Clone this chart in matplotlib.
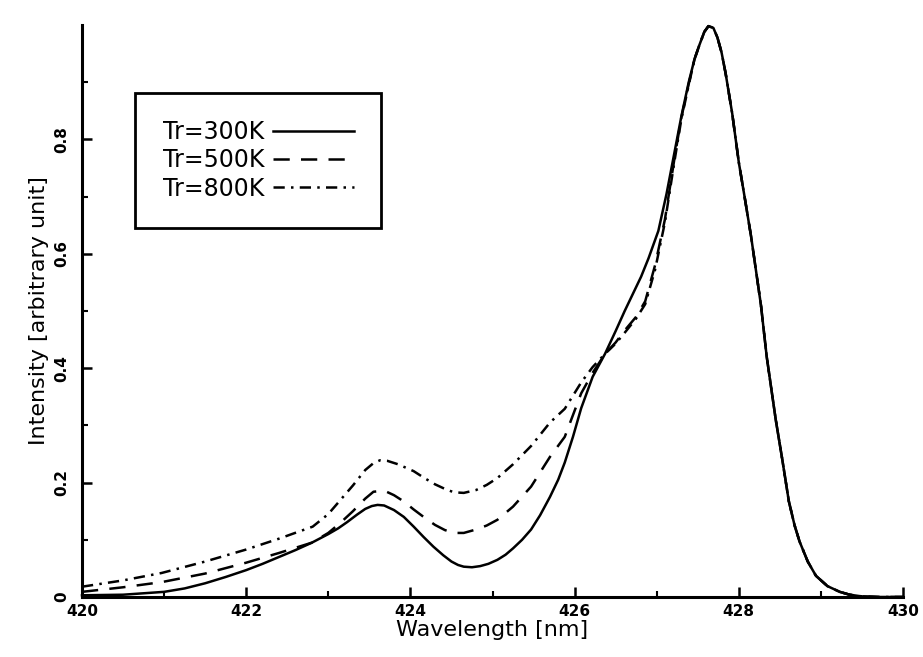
import matplotlib
matplotlib.use("Agg")
import matplotlib.pyplot as plt

# Wavelength [nm] and intensities
wl_300 = [420.0, 420.5, 421.0, 421.25, 421.5, 421.75, 422.0, 422.2, 422.4, 422.6, 422.8,
          423.0, 423.12, 423.23, 423.35, 423.45, 423.53, 423.6, 423.68, 423.8, 423.92,
          424.04, 424.16, 424.28, 424.4, 424.5, 424.58, 424.65, 424.75, 424.85, 424.95,
          425.06, 425.16, 425.25, 425.36, 425.47, 425.58, 425.7, 425.8, 425.88, 425.98,
          426.08, 426.22, 426.37, 426.5, 426.61, 426.71, 426.81, 426.9, 427.02, 427.12,
          427.22, 427.3, 427.39, 427.46, 427.52, 427.58, 427.63, 427.69, 427.74, 427.79,
          427.84, 427.92, 428.0, 428.07, 428.15, 428.21, 428.27, 428.34, 428.4, 428.45,
          428.53, 428.61, 428.68, 428.74, 428.84, 428.94, 429.08, 429.23, 429.35, 429.5,
          429.7, 430.0]
int_300 = [0.003, 0.004, 0.009, 0.015, 0.024, 0.035, 0.047, 0.058, 0.070, 0.082, 0.095,
           0.110, 0.120, 0.131, 0.144, 0.154, 0.159, 0.161, 0.160, 0.152, 0.140,
           0.123, 0.105, 0.088, 0.073, 0.062, 0.056, 0.053, 0.052, 0.054, 0.058,
           0.065, 0.074, 0.085, 0.100, 0.118, 0.143, 0.175, 0.205, 0.235, 0.280,
           0.330, 0.385, 0.425, 0.465, 0.500, 0.530, 0.560, 0.592, 0.640, 0.705,
           0.780, 0.840, 0.900, 0.940, 0.965, 0.988, 0.998, 0.995, 0.978, 0.952,
           0.915, 0.845, 0.760, 0.700, 0.630, 0.570, 0.510, 0.420, 0.360, 0.310,
           0.240, 0.167, 0.125, 0.097, 0.062, 0.037, 0.019, 0.009, 0.004, 0.001,
           0.0, 0.0]

wl_500 = [420.0, 420.5, 420.97, 421.5, 422.0, 422.4, 422.8, 423.0, 423.15, 423.3, 423.45,
          423.55, 423.68, 423.8, 423.92, 424.04, 424.17, 424.3, 424.42, 424.53, 424.65,
          424.8, 424.93, 425.06, 425.25, 425.47, 425.7, 425.88, 426.08, 426.22, 426.37,
          426.5, 426.61, 426.75, 426.86, 426.98, 427.1, 427.22, 427.3, 427.39, 427.46,
          427.52, 427.58, 427.63, 427.69, 427.74, 427.79, 427.84, 427.92, 428.0, 428.07,
          428.15, 428.21, 428.27, 428.34, 428.4, 428.45, 428.53, 428.61, 428.68, 428.74,
          428.84, 428.94, 429.08, 429.23, 429.35, 429.5, 429.7, 430.0]
int_500 = [0.009, 0.017, 0.026, 0.041, 0.060, 0.077, 0.095, 0.112, 0.130, 0.150, 0.172,
           0.184, 0.186, 0.178, 0.167, 0.153, 0.139, 0.126, 0.117, 0.112, 0.112,
           0.118, 0.125, 0.135, 0.158, 0.193, 0.245, 0.280, 0.356, 0.392, 0.425,
           0.445, 0.466, 0.490, 0.517, 0.580, 0.660, 0.770, 0.838, 0.897, 0.940,
           0.965, 0.988, 0.998, 0.995, 0.978, 0.952, 0.915, 0.845, 0.760, 0.700,
           0.630, 0.570, 0.510, 0.420, 0.360, 0.310, 0.240, 0.167, 0.125, 0.097,
           0.062, 0.037, 0.019, 0.009, 0.004, 0.001, 0.0, 0.0]

wl_800 = [420.0, 420.5, 420.97, 421.5, 422.0, 422.4, 422.81, 423.0, 423.15, 423.3, 423.45,
          423.55, 423.63, 423.72, 423.85, 424.04, 424.17, 424.3, 424.42, 424.53, 424.65,
          424.8, 424.93, 425.06, 425.25, 425.47, 425.7, 425.88, 426.08, 426.22, 426.37,
          426.5, 426.61, 426.75, 426.86, 426.98, 427.1, 427.22, 427.3, 427.39, 427.46,
          427.52, 427.58, 427.63, 427.69, 427.74, 427.79, 427.84, 427.92, 428.0, 428.07,
          428.15, 428.21, 428.27, 428.34, 428.4, 428.45, 428.53, 428.61, 428.68, 428.74,
          428.84, 428.94, 429.08, 429.23, 429.35, 429.5, 429.7, 430.0]
int_800 = [0.018, 0.029, 0.042, 0.062, 0.083, 0.102, 0.123, 0.145, 0.170, 0.195, 0.222,
           0.234, 0.239, 0.238, 0.232, 0.220, 0.208, 0.197, 0.189, 0.183, 0.182,
           0.187, 0.196, 0.208, 0.232, 0.264, 0.305, 0.329, 0.375, 0.402, 0.425,
           0.443, 0.462, 0.487, 0.512, 0.572, 0.655, 0.765, 0.835, 0.895, 0.940,
           0.965, 0.988, 0.998, 0.995, 0.978, 0.952, 0.915, 0.845, 0.760, 0.700,
           0.630, 0.570, 0.510, 0.420, 0.360, 0.310, 0.240, 0.167, 0.125, 0.097,
           0.062, 0.037, 0.019, 0.009, 0.004, 0.001, 0.0, 0.0]

labels = ["Tr=300K", "Tr=500K", "Tr=800K"]
x_ticks = [420, 422, 424, 426, 428, 430]
y_ticks = [0, 0.2, 0.4, 0.6, 0.8]
y_tick_labels = ["0", "0.2", "0.4", "0.6", "0.8"]

tick_font = dict(family=["Liberation Sans Narrow", "DejaVu Sans"], weight="bold", size=11)
label_font = dict(family=["DejaVu Sans"], size=16)

fig = plt.figure(figsize=(9.23, 6.57), dpi=100)
ax = fig.add_axes([82 / 923, 1 - 597 / 657, (903 - 82) / 923, (597 - 25) / 657])

lw = 1.8
styles = [dict(linestyle="-"),
          dict(linestyle=(0, (6.5, 4.5))),
          dict(linestyle=(0, (4.5, 2.5, 1, 2.5)))]
series = [(wl_300, int_300), (wl_500, int_500), (wl_800, int_800)]
handles = []
for (x, y), st, lab in zip(series, styles, labels):
    h, = ax.plot(x, y, color="black", lw=lw, clip_on=False, label=lab,
                 solid_joinstyle="round", **st)
    handles.append(h)

ax.set_xlim(420, 430)
ax.set_ylim(0, 1.0)
for s in ["top", "right"]:
    ax.spines[s].set_visible(False)
for s in ["left", "bottom"]:
    ax.spines[s].set_linewidth(2.2)

ax.set_xticks(x_ticks)
ax.set_xticks([421, 423, 425, 427, 429], minor=True)
ax.set_yticks(y_ticks)
ax.set_yticks([0.1, 0.3, 0.5, 0.7, 0.9], minor=True)
ax.tick_params(which="major", direction="in", length=7, width=1.8, pad=5)
ax.tick_params(which="minor", direction="in", length=4, width=1.5)
ax.tick_params(axis="y", which="major", pad=9)
ax.set_xticklabels([str(t) for t in x_ticks], **tick_font)
ax.set_yticklabels(y_tick_labels, rotation=90, va="center", **tick_font)

ax.set_xlabel("Wavelength [nm]", labelpad=1, **label_font)
ax.set_ylabel("Intensity [arbitrary unit]", labelpad=4, **label_font)

leg = ax.legend(handles=handles, loc="upper left", bbox_to_anchor=(0.065, 0.881),
                markerfirst=False, frameon=True, fancybox=False, framealpha=1,
                edgecolor="black", prop=dict(family="DejaVu Sans", size=17),
                handlelength=3.4, handletextpad=0.4, labelspacing=0.18,
                borderpad=1.15, borderaxespad=0)
leg.get_frame().set_linewidth(2.0)

fig.savefig("out.png", dpi=100)
